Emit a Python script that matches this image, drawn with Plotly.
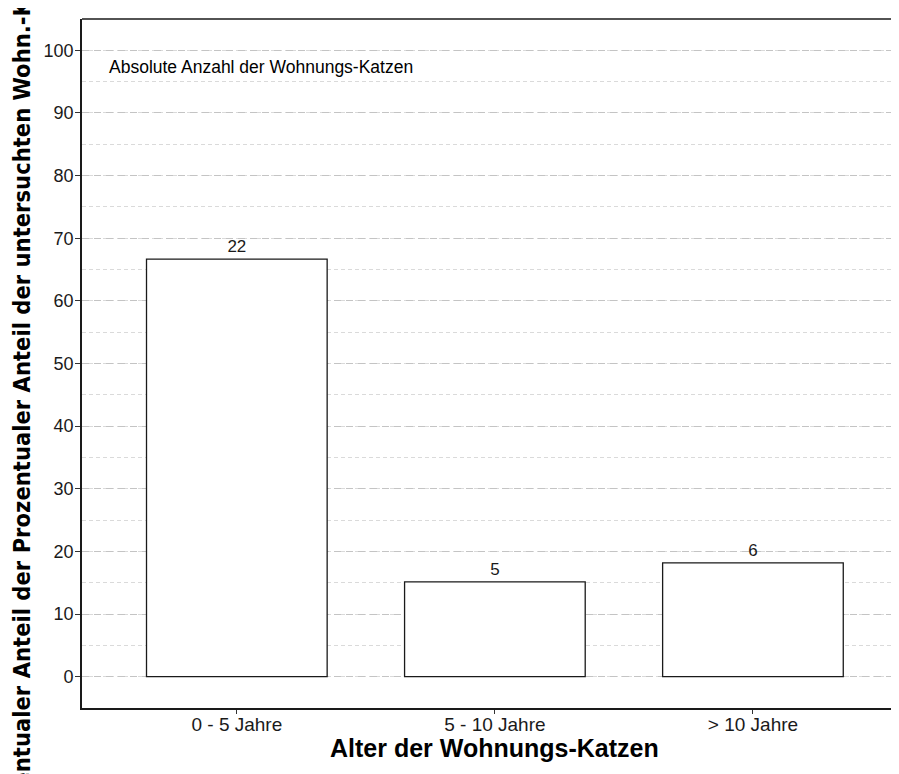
import plotly.graph_objects as go

categories = ["0 - 5 Jahre", "5 - 10 Jahre", "> 10 Jahre"]
counts = [22, 5, 6]
percent = [66.67, 15.15, 18.18]
y_ticks = [0, 10, 20, 30, 40, 50, 60, 70, 80, 90, 100]

FONT = "Liberation Sans, Arial, Helvetica, sans-serif"
NARROW = "Liberation Sans Narrow, Arial Narrow, DejaVu Sans Condensed, sans-serif"

fig = go.Figure()
fig.add_trace(go.Bar(
    x=[0, 1, 2],
    y=percent,
    width=0.7,
    marker=dict(color="white", line=dict(color="#1a1a1a", width=1.3)),
    text=[str(c) for c in counts],
    textposition="outside",
    textfont=dict(family=FONT, size=17, color="#1a1a1a"),
    cliponaxis=False,
    showlegend=False,
))

fig.update_layout(
    width=891, height=766,
    margin=dict(l=74, r=0, t=11, b=66),
    paper_bgcolor="white", plot_bgcolor="white",
    font=dict(family=FONT, color="#1a1a1a"),
    xaxis=dict(
        range=[-0.6, 2.566],
        tickmode="array", tickvals=[0, 1, 2], ticktext=categories,
        tickfont=dict(size=19, color="#1a1a1a"),
        ticks="outside", ticklen=4, tickcolor="#333",
        ticklabelstandoff=-6,
        showline=True, linecolor="#1a1a1a", linewidth=1.6,
        showgrid=False, zeroline=False, automargin=False,
    ),
    yaxis=dict(
        range=[-5, 105],
        tickmode="array", tickvals=y_ticks,
        tickfont=dict(size=18, color="#1a1a1a"),
        ticks="outside", ticklen=5, tickcolor="#333",
        ticklabelstandoff=-2,
        showline=True, linecolor="#1a1a1a", linewidth=1.6,
        showgrid=True, gridcolor="#c4c4c4", gridwidth=1, griddash="7px,5px",
        minor=dict(dtick=5, tick0=5, showgrid=True, gridcolor="#dadada", gridwidth=1, griddash="4px,3px"),
        zeroline=False, automargin=False,
    ),
    shapes=[dict(type="line", xref="paper", yref="paper", x0=0, x1=1, y0=1, y1=1,
                 line=dict(color="#1a1a1a", width=1.6))],
    annotations=[
        dict(text="Absolute Anzahl der Wohnungs-Katzen", xref="paper", yref="y",
             x=0.031, y=97.4, xanchor="left", yanchor="middle", showarrow=False,
             font=dict(size=17.5, color="black")),
        dict(text="<b>Alter der Wohnungs-Katzen</b>", xref="paper", yref="paper",
             x=0.505, y=-0.058, xanchor="center", yanchor="middle", showarrow=False,
             font=dict(size=25, color="black")),
        dict(text="<b>Prozentualer Anteil der Prozentualer Anteil der untersuchten Wohn.-Katzen</b>",
             xref="paper", yref="paper", x=-0.073, y=0.466, xanchor="center", yanchor="middle",
             textangle=-90, showarrow=False, font=dict(family=NARROW, size=23.5, color="black")),
    ],
)

fig.write_html("out.html")
